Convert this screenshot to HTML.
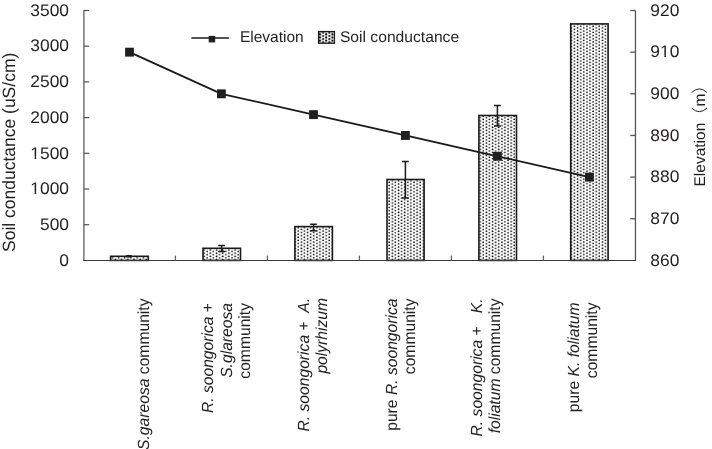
<!DOCTYPE html>
<html><head><meta charset="utf-8"><style>
html,body{margin:0;padding:0;background:#fff;}
body{width:712px;height:449px;overflow:hidden;}
svg{display:block;will-change:transform;font-family:"Liberation Sans",sans-serif;fill:#231f20;}
text{fill:#231f20;text-rendering:geometricPrecision;}
</style></head><body>
<svg width="712" height="449" viewBox="0 0 712 449"><defs><pattern id="p0" patternUnits="userSpaceOnUse" width="6.2" height="3.15" x="114.40" y="258.40"><circle cx="1.0" cy="1.0" r="0.85" fill="#000"/><circle cx="4.100" cy="2.575" r="0.85" fill="#000"/><circle cx="4.100" cy="-0.575" r="0.85" fill="#000"/></pattern><pattern id="p1" patternUnits="userSpaceOnUse" width="6.2" height="3.15" x="206.20" y="250.60"><circle cx="1.0" cy="1.0" r="0.85" fill="#000"/><circle cx="4.100" cy="2.575" r="0.85" fill="#000"/><circle cx="4.100" cy="-0.575" r="0.85" fill="#000"/></pattern><pattern id="p2" patternUnits="userSpaceOnUse" width="6.2" height="3.15" x="297.25" y="236.30"><circle cx="1.0" cy="1.0" r="0.85" fill="#000"/><circle cx="4.100" cy="2.575" r="0.85" fill="#000"/><circle cx="4.100" cy="-0.575" r="0.85" fill="#000"/></pattern><pattern id="p3" patternUnits="userSpaceOnUse" width="6.2" height="3.15" x="388.20" y="219.20"><circle cx="1.0" cy="1.0" r="0.85" fill="#000"/><circle cx="4.100" cy="2.575" r="0.85" fill="#000"/><circle cx="4.100" cy="-0.575" r="0.85" fill="#000"/></pattern><pattern id="p4" patternUnits="userSpaceOnUse" width="6.2" height="3.15" x="482.25" y="181.40"><circle cx="1.0" cy="1.0" r="0.85" fill="#000"/><circle cx="4.100" cy="2.575" r="0.85" fill="#000"/><circle cx="4.100" cy="-0.575" r="0.85" fill="#000"/></pattern><pattern id="p5" patternUnits="userSpaceOnUse" width="6.2" height="3.15" x="573.50" y="129.20"><circle cx="1.0" cy="1.0" r="0.85" fill="#000"/><circle cx="4.100" cy="2.575" r="0.85" fill="#000"/><circle cx="4.100" cy="-0.575" r="0.85" fill="#000"/></pattern><pattern id="p6" patternUnits="userSpaceOnUse" width="6.2" height="3.15" x="319.00" y="33.30"><circle cx="1.0" cy="1.0" r="1.08" fill="#000"/><circle cx="4.100" cy="2.575" r="1.08" fill="#000"/><circle cx="4.100" cy="-0.575" r="1.08" fill="#000"/></pattern></defs><rect x="110.60" y="256.30" width="37.70" height="4.10" fill="url(#p0)" stroke="#1a1a1a" stroke-width="1.6"/><rect x="203.00" y="248.30" width="37.50" height="12.10" fill="url(#p1)" stroke="#1a1a1a" stroke-width="1.6"/><rect x="294.90" y="226.60" width="37.50" height="33.80" fill="url(#p2)" stroke="#1a1a1a" stroke-width="1.6"/><rect x="387.00" y="179.50" width="37.10" height="80.90" fill="url(#p3)" stroke="#1a1a1a" stroke-width="1.6"/><rect x="478.90" y="115.50" width="37.60" height="144.90" fill="url(#p4)" stroke="#1a1a1a" stroke-width="1.6"/><rect x="570.70" y="23.90" width="37.40" height="236.50" fill="url(#p5)" stroke="#1a1a1a" stroke-width="1.6"/><path d="M129.00 255.70V256.80M126.20 255.70H131.80M126.20 256.80H131.80" stroke="#1a1a1a" stroke-width="1.5" fill="none"/><path d="M221.60 245.40V251.40M218.20 245.40H225.00M218.20 251.40H225.00" stroke="#1a1a1a" stroke-width="1.5" fill="none"/><path d="M313.50 224.30V230.70M310.20 224.30H316.80M310.20 230.70H316.80" stroke="#1a1a1a" stroke-width="1.5" fill="none"/><path d="M405.40 161.60V198.00M402.00 161.60H408.80M402.00 198.00H408.80" stroke="#1a1a1a" stroke-width="1.5" fill="none"/><path d="M497.40 105.40V126.00M494.00 105.40H500.80M494.00 126.00H500.80" stroke="#1a1a1a" stroke-width="1.5" fill="none"/><line x1="83.9" y1="9.9" x2="83.9" y2="260.4" stroke="#7d7d7d" stroke-width="1.6"/><line x1="635.45" y1="10.5" x2="635.45" y2="260.4" stroke="#555" stroke-width="1.3"/><line x1="83.10000000000001" y1="260.5" x2="636.1" y2="260.5" stroke="#3a3a3a" stroke-width="1.2"/><line x1="83.9" y1="224.70" x2="89.20" y2="224.70" stroke="#505050" stroke-width="1.2"/><line x1="83.9" y1="189.00" x2="89.20" y2="189.00" stroke="#505050" stroke-width="1.2"/><line x1="83.9" y1="153.30" x2="89.20" y2="153.30" stroke="#505050" stroke-width="1.2"/><line x1="83.9" y1="117.60" x2="89.20" y2="117.60" stroke="#505050" stroke-width="1.2"/><line x1="83.9" y1="81.90" x2="89.20" y2="81.90" stroke="#505050" stroke-width="1.2"/><line x1="83.9" y1="46.20" x2="89.20" y2="46.20" stroke="#505050" stroke-width="1.2"/><line x1="83.9" y1="10.50" x2="89.20" y2="10.50" stroke="#505050" stroke-width="1.2"/><line x1="630.25" y1="218.75" x2="635.45" y2="218.75" stroke="#555" stroke-width="1.3"/><line x1="630.25" y1="177.10" x2="635.45" y2="177.10" stroke="#555" stroke-width="1.3"/><line x1="630.25" y1="135.45" x2="635.45" y2="135.45" stroke="#555" stroke-width="1.3"/><line x1="630.25" y1="93.80" x2="635.45" y2="93.80" stroke="#555" stroke-width="1.3"/><line x1="630.25" y1="52.15" x2="635.45" y2="52.15" stroke="#555" stroke-width="1.3"/><line x1="630.25" y1="10.50" x2="635.45" y2="10.50" stroke="#555" stroke-width="1.3"/><line x1="175.40" y1="255.6" x2="175.40" y2="260.4" stroke="#666" stroke-width="1.3"/><line x1="267.40" y1="255.6" x2="267.40" y2="260.4" stroke="#666" stroke-width="1.3"/><line x1="359.40" y1="255.6" x2="359.40" y2="260.4" stroke="#666" stroke-width="1.3"/><line x1="451.40" y1="255.6" x2="451.40" y2="260.4" stroke="#666" stroke-width="1.3"/><line x1="543.40" y1="255.6" x2="543.40" y2="260.4" stroke="#666" stroke-width="1.3"/><polyline points="129.50,52.15 221.40,93.80 313.50,114.62 405.40,135.45 497.40,156.27 589.40,177.10" fill="none" stroke="#1a1a1a" stroke-width="1.8"/><rect x="125.10" y="47.70" width="8.8" height="8.9" fill="#231f20"/><rect x="217.00" y="89.35" width="8.8" height="8.9" fill="#231f20"/><rect x="309.10" y="110.17" width="8.8" height="8.9" fill="#231f20"/><rect x="401.00" y="131.00" width="8.8" height="8.9" fill="#231f20"/><rect x="493.00" y="151.82" width="8.8" height="8.9" fill="#231f20"/><rect x="585.00" y="172.65" width="8.8" height="8.9" fill="#231f20"/><text transform="translate(69.00,265.61) scale(1.037,1)" text-anchor="end" font-size="16.8">0</text><text transform="translate(69.00,229.91) scale(1.037,1)" text-anchor="end" font-size="16.8">500</text><text transform="translate(69.00,194.21) scale(1.037,1)" text-anchor="end" font-size="16.8">1000</text><g transform="translate(69.00,194.21) scale(1.037,1)"><rect x="-37.045" y="-2.461" width="3.839" height="3.281" fill="#fff"/><rect x="-31.607" y="-2.461" width="2.929" height="3.281" fill="#fff"/></g><text transform="translate(69.00,158.51) scale(1.037,1)" text-anchor="end" font-size="16.8">1500</text><g transform="translate(69.00,158.51) scale(1.037,1)"><rect x="-37.045" y="-2.461" width="3.839" height="3.281" fill="#fff"/><rect x="-31.607" y="-2.461" width="2.929" height="3.281" fill="#fff"/></g><text transform="translate(69.00,122.81) scale(1.037,1)" text-anchor="end" font-size="16.8">2000</text><text transform="translate(69.00,87.11) scale(1.037,1)" text-anchor="end" font-size="16.8">2500</text><text transform="translate(69.00,51.41) scale(1.037,1)" text-anchor="end" font-size="16.8">3000</text><text transform="translate(69.00,15.71) scale(1.037,1)" text-anchor="end" font-size="16.8">3500</text><text transform="translate(650.30,265.61) scale(1.037,1)" font-size="16.8">860</text><text transform="translate(650.30,223.96) scale(1.037,1)" font-size="16.8">870</text><text transform="translate(650.30,182.31) scale(1.037,1)" font-size="16.8">880</text><text transform="translate(650.30,140.66) scale(1.037,1)" font-size="16.8">890</text><text transform="translate(650.30,99.01) scale(1.037,1)" font-size="16.8">900</text><text transform="translate(650.30,57.36) scale(1.037,1)" font-size="16.8">910</text><g transform="translate(650.30,57.36) scale(1.037,1)"><rect x="9.671" y="-2.461" width="3.839" height="3.281" fill="#fff"/><rect x="15.110" y="-2.461" width="2.929" height="3.281" fill="#fff"/></g><text transform="translate(650.30,15.71) scale(1.037,1)" font-size="16.8">920</text><line x1="191.4" y1="38.1" x2="228.8" y2="38.1" stroke="#1a1a1a" stroke-width="1.5"/><rect x="208.7" y="35.9" width="6.5" height="6.5" fill="#231f20"/><text x="239.9" y="41.7" font-size="15.5">Elevation</text><rect x="318.6" y="31.6" width="15.8" height="11.6" fill="url(#p6)" stroke="#1a1a1a" stroke-width="1.35"/><text transform="translate(339.9,41.7) scale(1.01,1)" font-size="15.5">Soil conductance</text><text transform="translate(14.9,252.0) rotate(-90) scale(1.06,1.077)" font-size="16.5">Soil conductance (uS/cm)</text><text transform="translate(704.7,186.5) rotate(-90)" font-size="15.5">Elevation</text><text transform="translate(704.9,106.5) rotate(-90)" font-size="15.5">m</text><path d="M691.6 108 Q699.3 115.4 707 108 M691.6 92.5 Q699.3 85.3 707 92.5" fill="none" stroke="#231f20" stroke-width="1"/><text transform="translate(149.20,298.50) rotate(-90) scale(1.01,1.04)" text-anchor="end" font-size="15.5" xml:space="preserve"><tspan font-style="italic">S.gareosa</tspan><tspan> community</tspan></text><text transform="translate(212.50,303.00) rotate(-90) scale(1.01,1.04)" text-anchor="end" font-size="15.5" xml:space="preserve"><tspan font-style="italic">R. soongorica</tspan><tspan> +</tspan></text><text transform="translate(232.00,303.00) rotate(-90) scale(1.01,1.04)" text-anchor="end" font-size="15.5" xml:space="preserve"><tspan font-style="italic">S.glareosa</tspan></text><text transform="translate(249.50,303.00) rotate(-90) scale(1.01,1.04)" text-anchor="end" font-size="15.5" xml:space="preserve"><tspan>community</tspan></text><text transform="translate(308.90,297.90) rotate(-90) scale(1.01,1.04)" text-anchor="end" font-size="15.5" xml:space="preserve"><tspan font-style="italic">R. soongorica</tspan><tspan> +  </tspan><tspan font-style="italic">A.</tspan></text><text transform="translate(327.30,297.90) rotate(-90) scale(1.01,1.04)" text-anchor="end" font-size="15.5" xml:space="preserve"><tspan font-style="italic">polyrhizum</tspan></text><text transform="translate(396.70,298.50) rotate(-90) scale(1.01,1.04)" text-anchor="end" font-size="15.5" xml:space="preserve"><tspan>pure </tspan><tspan font-style="italic">R. soongorica</tspan></text><text transform="translate(414.50,298.50) rotate(-90) scale(1.01,1.04)" text-anchor="end" font-size="15.5" xml:space="preserve"><tspan>community</tspan></text><text transform="translate(482.00,298.50) rotate(-90) scale(1.01,1.04)" text-anchor="end" font-size="15.5" xml:space="preserve"><tspan font-style="italic">R. soongorica</tspan><tspan> +   </tspan><tspan font-style="italic">K.</tspan></text><text transform="translate(500.00,298.50) rotate(-90) scale(1.01,1.04)" text-anchor="end" font-size="15.5" xml:space="preserve"><tspan font-style="italic">foliatum</tspan><tspan> community</tspan></text><text transform="translate(579.00,302.50) rotate(-90) scale(1.01,1.04)" text-anchor="end" font-size="15.5" xml:space="preserve"><tspan>pure </tspan><tspan font-style="italic">K. foliatum</tspan></text><text transform="translate(597.30,302.50) rotate(-90) scale(1.01,1.04)" text-anchor="end" font-size="15.5" xml:space="preserve"><tspan>community</tspan></text></svg>
</body></html>
